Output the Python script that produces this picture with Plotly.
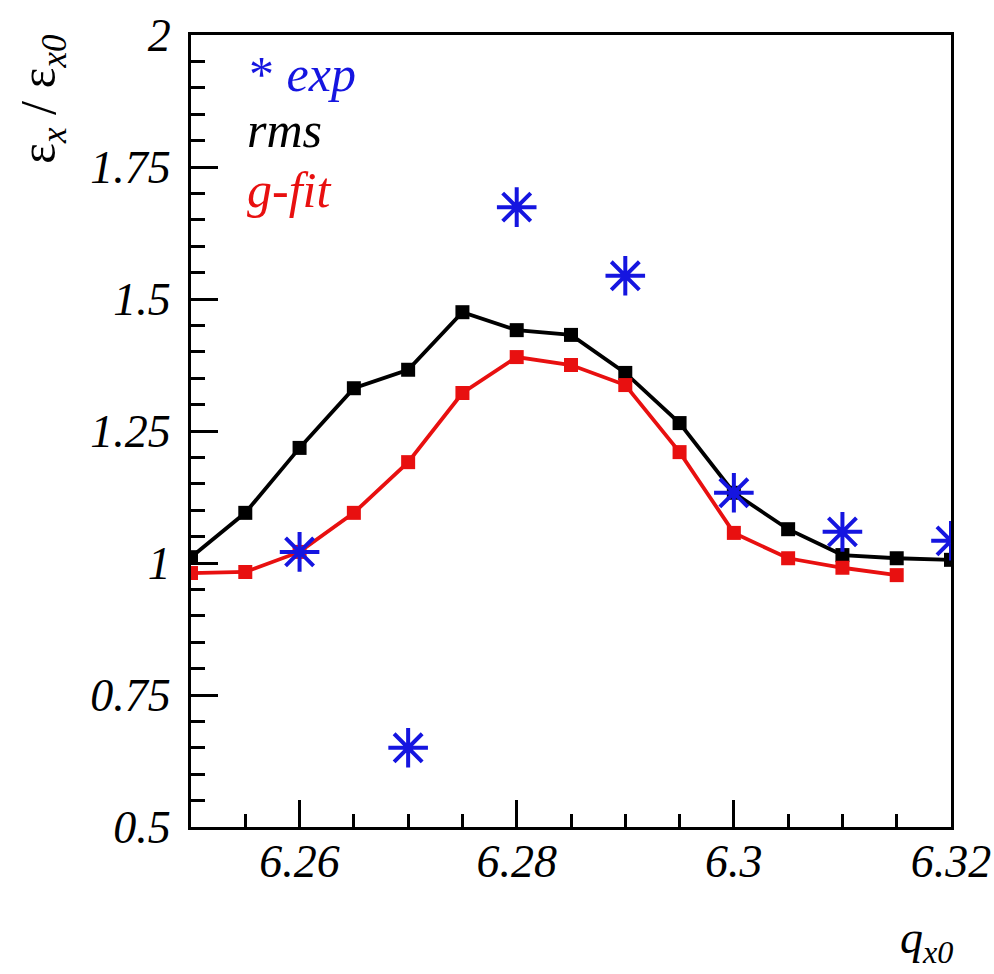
import plotly.graph_objects as go

q_rms = [6.25, 6.255, 6.26, 6.265, 6.27, 6.275, 6.28, 6.285, 6.29, 6.295, 6.30, 6.305, 6.31, 6.315, 6.32]
rms = [1.011, 1.095, 1.218, 1.331, 1.366, 1.475, 1.441, 1.432, 1.360, 1.265, 1.133, 1.064, 1.015, 1.009, 1.006]

q_fit = [6.25, 6.255, 6.26, 6.265, 6.27, 6.275, 6.28, 6.285, 6.29, 6.295, 6.30, 6.305, 6.31, 6.315]
gfit = [0.981, 0.983, 1.021, 1.095, 1.191, 1.322, 1.390, 1.375, 1.337, 1.210, 1.057, 1.009, 0.991, 0.977]

q_exp = [6.26, 6.27, 6.28, 6.29, 6.30, 6.31, 6.32]
exp = [1.021, 0.650, 1.674, 1.544, 1.133, 1.059, 1.042]

x_ticks = [6.26, 6.28, 6.30, 6.32]
x_labels = ["6.26", "6.28", "6.3", "6.32"]
y_ticks = [0.5, 0.75, 1.0, 1.25, 1.5, 1.75, 2.0]
y_labels = ["0.5", "0.75", "1", "1.25", "1.5", "1.75", "2"]

FONT = "Liberation Serif"
BLUE = "#1515e0"
RED = "#e81010"

L, R, T, B = 191, 43, 35, 147
W, H = 994, 974
PW, PH = W - L - R, H - T - B


def px2paper(px, py):
    return (px - L) / PW, 1 - (py - T) / PH


fig = go.Figure()
fig.add_trace(go.Scatter(x=q_rms, y=rms, mode="lines+markers",
                         line=dict(color="black", width=3.8),
                         marker=dict(symbol="square", size=14, color="black"),
                         showlegend=False))
fig.add_trace(go.Scatter(x=q_fit, y=gfit, mode="lines+markers",
                         line=dict(color=RED, width=3.8),
                         marker=dict(symbol="square", size=14, color=RED),
                         showlegend=False))
fig.add_trace(go.Scatter(x=q_exp, y=exp, mode="markers",
                         marker=dict(symbol="asterisk-open", size=33,
                                     line=dict(color=BLUE, width=4), color=BLUE),
                         showlegend=False))

axis_common = dict(ticks="inside", ticklen=27, tickwidth=3, tickcolor="black",
                   showline=True, linewidth=3, linecolor="black", mirror=True,
                   showgrid=False, zeroline=False, automargin=False,
                   tickfont=dict(family=FONT, size=46, style="italic", color="black"))

fig.update_layout(
    width=W, height=H,
    margin=dict(l=L, r=R, t=T, b=B, autoexpand=False),
    plot_bgcolor="white", paper_bgcolor="white",
    font=dict(family=FONT, size=44, color="black"),
    xaxis=dict(range=[6.25, 6.32], tickvals=x_ticks, ticktext=x_labels,
               ticklabelstandoff=-8,
               minor=dict(dtick=0.005, tick0=6.25, ticks="inside", ticklen=13,
                          tickwidth=3, tickcolor="black", showgrid=False),
               **axis_common),
    yaxis=dict(range=[0.5, 2.0], tickvals=y_ticks, ticktext=y_labels,
               ticklabelstandoff=8,
               minor=dict(dtick=0.05, tick0=0.5, ticks="inside", ticklen=14,
                          tickwidth=3, tickcolor="black", showgrid=False),
               **axis_common),
)

legend_items = [
    (247, 74, "<span style='font-style:normal'>*</span> exp", BLUE),
    (245, 130, "rms", "black"),
    (245, 190, "g-fit", RED),
]
for px, py, txt, col in legend_items:
    ax, ay = px2paper(px, py)
    fig.add_annotation(x=ax, y=ay, xref="paper", yref="paper", text=txt,
                       showarrow=False, xanchor="left", yanchor="middle",
                       font=dict(family=FONT, size=50, color=col, style="italic"))

tx, ty = px2paper(42, 32)
fig.add_annotation(x=tx, y=ty, xref="paper", yref="paper",
                   text="ε<sub><i>x</i></sub> / ε<sub><i>x0</i></sub>", textangle=-90,
                   showarrow=False, xanchor="center", yanchor="top",
                   font=dict(family=FONT, size=50, color="black"))

qx, qy = px2paper(955, 972)
fig.add_annotation(x=qx, y=qy, xref="paper", yref="paper",
                   text="<i>q</i><sub><i>x0</i></sub>", showarrow=False,
                   xanchor="right", yanchor="bottom",
                   font=dict(family=FONT, size=46, color="black"))

fig.write_html("out.html")
